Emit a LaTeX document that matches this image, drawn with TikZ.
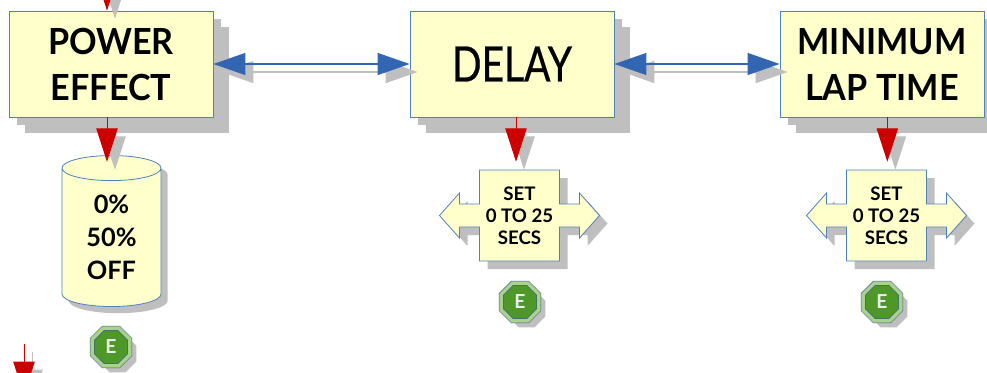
\documentclass[tikz,border=0pt]{standalone}
\usepackage{fontspec}
\setmainfont{Lato}
\newfontfamily\delayfont[FakeStretch=0.8,FakeBold=0.5]{Lato}
\newfontfamily\headfont[FakeStretch=0.95]{Lato}
\usepackage{tikz}
\usetikzlibrary{shapes,arrows.meta,positioning,calc,shadows}
\usepackage{xcolor}
\definecolor{boxyellow}{RGB}{255,255,204}
\definecolor{boxblue}{RGB}{79,129,189}
\definecolor{arrowblue}{RGB}{51,102,178}
\definecolor{arrowred}{RGB}{204,0,0}
\definecolor{shadowgray}{RGB}{191,191,191}
\definecolor{octgreen}{RGB}{78,152,40}
\definecolor{ringgreen}{RGB}{170,210,142}
\definecolor{octedge}{RGB}{60,95,140}

\newcommand{\setshape}[1]{\path[#1] (-40,-45.5) -- (40,-45.5) -- (40,-11.5) -- (60,-11.5) -- (60,-22.5) -- (80,0) -- (60,22.5) -- (60,11.5) -- (40,11.5) -- (40,45.5) -- (-40,45.5) -- (-40,11.5) -- (-60,11.5) -- (-60,22.5) -- (-80,0) -- (-60,-22.5) -- (-60,-11.5) -- (-40,-11.5) -- cycle;}
\newcommand{\bluelink}[2]{%
    \draw[blueshadow] ($(#1)+(8,8)$) -- ($(#2)+(8,8)$);
    \draw[bluearrow] (#1) -- (#2);}
\newcommand{\redlink}[3][]{%
    \draw[redshadow,#1] ($(#2)+(8,8)$) -- ($(#3)+(8,8)$);
    \draw[redarrow,#1] (#2) -- (#3);}

\begin{document}
\begin{tikzpicture}[x=0.75pt,y=-0.75pt,
        mainbox/.style={rectangle,fill=boxyellow,draw=boxblue,line width=0.6pt,minimum width=153pt,minimum height=79.5pt,inner sep=0pt,align=center,
            general shadow={fill=shadowgray,shadow xshift=12pt,shadow yshift=-12pt},
            general shadow={fill=shadowgray,shadow xshift=6pt,shadow yshift=-6pt}},
        setbox/.style={rectangle,minimum width=60pt,minimum height=68.25pt,inner sep=0pt,align=center,font=\bfseries\fontsize{14}{16.5}\selectfont},
        enterkey/.style={regular polygon,regular polygon sides=8,minimum size=30.5pt,inner sep=0pt,fill=octgreen,draw=octedge,double=ringgreen,double distance=2.6pt,line width=0.5pt,text=black!8,font=\bfseries\fontsize{14.5}{16}\selectfont,
            general shadow={fill=shadowgray,shadow xshift=5pt,shadow yshift=-5pt}},
        bluearrow/.style={draw=arrowblue,line width=0.9pt,{Triangle[length=24pt,width=16.5pt]}-{Triangle[length=24pt,width=16.5pt]}},
        blueshadow/.style={draw=shadowgray,line width=1.4pt,{Triangle[length=24pt,width=16.5pt]}-{Triangle[length=24pt,width=16.5pt]}},
        redarrow/.style={draw=arrowred,line width=0.75pt,-{Triangle[length=25pt,width=16pt]}},
        redshadow/.style={draw=shadowgray,line width=0.75pt,-{Triangle[length=25pt,width=16pt]}}]
    \useasboundingbox (0,0) rectangle (987,372);

    % Main boxes
    \node[mainbox,font=\headfont\bfseries\fontsize{27}{34.5}\selectfont] (pe) at (111,64) {POWER\\EFFECT};
    \node[mainbox,font=\delayfont\fontsize{36.5}{40}\selectfont] (dl) at (512,64) {DELAY};
    \node[mainbox,font=\headfont\bfseries\fontsize{27}{34.5}\selectfont] (mlt) at (882,64) {MINIMUM\\LAP TIME};

    % Power options
    \node[cylinder,shape border rotate=90,aspect=0.5,draw=boxblue,fill=boxyellow,line width=0.6pt,minimum width=74.25pt,minimum height=113.25pt,inner sep=0pt,align=center,
        font=\bfseries\fontsize{19}{24.75}\selectfont,
        general shadow={fill=shadowgray,shadow xshift=5pt,shadow yshift=-5pt}] (cyl) at (111.5,237.5) {0\%\\50\%\\OFF};

    % Setting panels
    \begin{scope}[shift={(519.5,215.5)}]
        \setshape{fill=shadowgray,shift={(8,8)}}
        \setshape{fill=boxyellow,draw=boxblue,line width=0.6pt}
    \end{scope}
    \node[setbox] (set1) at (519.5,215.5) {SET\\0 TO 25\\SECS};
    \begin{scope}[shift={(886.5,215.5)}]
        \setshape{fill=shadowgray,shift={(8,8)}}
        \setshape{fill=boxyellow,draw=boxblue,line width=0.6pt}
    \end{scope}
    \node[setbox] (set2) at (886.5,215.5) {SET\\0 TO 25\\SECS};

    % Enter keys
    \node[enterkey] (e1) at (111,347) {E};
    \node[enterkey] (e2) at (520,302) {E};
    \node[enterkey] (e3) at (882,302) {E};

    % Links between boxes
    \bluelink{pe.east}{dl.west}
    \bluelink{dl.east}{mlt.west}

    % Links down
    \coordinate (pein) at (107,-40);
    \coordinate (petop) at ([xshift=-3pt]pe.north);
    \coordinate (pebot) at ([xshift=-3pt]pe.south);
    \coordinate (cylin) at (pebot |- cyl.north);
    \coordinate (dlbot) at ([xshift=3pt]dl.south);
    \coordinate (set1in) at (dlbot |- set1.north);
    \coordinate (mltbot) at ([xshift=4pt]mlt.south);
    \coordinate (set2in) at (mltbot |- set2.north);
    \coordinate (lowin) at (24,344);
    \coordinate (lowout) at (24,395);
    \redlink{pein}{petop}
    \redlink[shorten >=-5pt]{pebot}{cylin}
    \redlink[shorten >=6pt]{dlbot}{set1in}
    \redlink[shorten >=6pt]{mltbot}{set2in}
    \redlink{lowin}{lowout}
\end{tikzpicture}
\end{document}
